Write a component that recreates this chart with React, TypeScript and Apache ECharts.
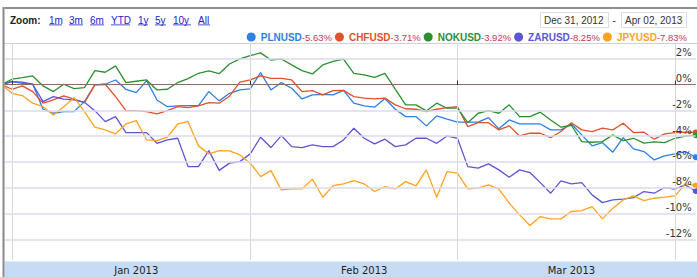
import React, { useEffect, useRef } from "react";
import * as echarts from "echarts";

// ---- data (percent change since Dec 31, 2012), one point per weekday ----
const SERIES_NAMES = ["PLNUSD", "CHFUSD", "NOKUSD", "ZARUSD", "JPYUSD"];
const SERIES_COLORS = ["#2e7fe6", "#e3512b", "#2b9130", "#5c55d6", "#ffa31f"];

const PLN = [0, 0.25, 0.1, 0.05, -1.91, -2.22, -2.09, -2.09, -1.32, -0.02, 0.03, 0.36, -0.36, -0.62, 0.31, -1.19, -1.71, -1.65, -1.63, -1.63, -0.54, -1.26, -0.67, -0.41, -0.33, 0.93, -0.41, 0.16, -0.28, -1.11, -0.8, -0.75, -0.8, -0.45, -1.44, -1.65, -1.75, -1.08, -1.91, -2.48, -2.48, -3.2, -2.43, -2.68, -2.91, -2.91, -2.91, -2.56, -3.43, -2.74, -3.05, -3.05, -3.05, -3.51, -3.51, -3.05, -3.9, -4.75, -4.5, -5.24, -4.11, -4.98, -5.19, -5.84, -5.53, -5.37, -5.19, -5.63];
const CHF = [0, -0.36, -0.1, -0.54, -1.44, -1.19, -0.88, -1.13, -1.4, -0.02, 0.03, -0.93, -2.02, -2.02, -2.09, -2.27, -2.02, -1.71, -1.78, -1.65, -1.4, -1.44, -0.9, 0.19, 0.36, 0.67, 0.49, 0.49, 0.36, -0.54, -0.46, -0.8, -0.46, -0.45, -0.93, -1.05, -1.1, -1.05, -1.57, -1.87, -1.91, -2.09, -1.91, -1.78, -1.71, -3.26, -2.95, -2.95, -3.51, -3.2, -3.98, -3.77, -3.77, -4.11, -3.64, -2.95, -3.51, -3.64, -3.38, -3.51, -2.99, -3.72, -3.69, -4.23, -3.82, -3.72, -3.69, -3.71];
const NOK = [0, 0.42, 0.54, 0.67, -0.1, -0.54, 0.03, -0.31, -0.23, 1.09, 0.96, 1.45, 0.16, 0.26, 0.36, -0.41, -0.36, 0.16, 0.47, 0.88, 1.06, 0.85, 1.6, 1.99, 2.25, 2.46, 1.91, 1.99, 1.53, 1.09, 0.83, 1.53, 1.8, 1.97, 0.88, 0.75, 0.57, 0.88, -0.35, -1.57, -1.57, -2.04, -1.44, -1.83, -1.83, -2.95, -2.22, -2.02, -2.22, -1.57, -2.48, -2.48, -2.14, -2.74, -3.3, -3.15, -4.42, -4.47, -4.42, -3.9, -4.34, -4.16, -4.54, -4.44, -4.5, -4.16, -4.0, -3.92];
const ZAR = [0, 0.23, 0.19, 0.03, -1.32, -0.93, -1.13, -1.19, -1.37, -2.02, -2.87, -2.48, -3.72, -3.72, -3.72, -4.55, -4.29, -4.16, -6.36, -6.36, -5.12, -6.65, -6.09, -5.97, -5.37, -4.08, -4.88, -3.95, -4.81, -4.88, -4.67, -4.81, -4.81, -4.29, -3.38, -4.16, -4.6, -4.23, -4.81, -4.67, -4.16, -4.16, -4.55, -3.98, -4.16, -6.36, -6.48, -6.15, -6.61, -7.18, -6.61, -6.82, -7.6, -8.42, -7.47, -7.7, -7.6, -8.55, -9.15, -8.94, -8.88, -8.76, -8.29, -8.42, -7.98, -8.11, -7.78, -8.25];
const JPY = [0, -0.67, -0.85, -1.44, -1.71, -2.35, -1.71, -1.01, -2.09, -3.3, -3.51, -3.82, -3.05, -2.79, -4.29, -4.34, -4.08, -3.05, -2.87, -4.75, -5.37, -5.12, -5.14, -5.45, -6.09, -7.13, -6.67, -8.16, -8.09, -8.09, -7.33, -8.73, -7.83, -7.7, -7.44, -7.7, -8.29, -7.91, -8.09, -7.52, -7.85, -6.61, -8.73, -6.74, -6.87, -8.09, -8.03, -7.78, -8.11, -9.19, -10.1, -10.93, -10.23, -10.41, -10.41, -9.84, -9.77, -9.46, -10.41, -9.58, -8.94, -8.63, -8.99, -8.81, -8.73, -8.63, -7.7, -7.83];
const SERIES_VALUES = [PLN, CHF, NOK, ZAR, JPY];

const Y_TICKS = [2, 0, -2, -4, -6, -8, -10, -12];
const Y_MIN = -13.6;
const Y_MAX = 3.15;

const MONTH_NAMES = ["Jan", "Feb", "Mar", "Apr", "May", "Jun", "Jul", "Aug", "Sep", "Oct", "Nov", "Dec"];
const MONTH_LABEL_DATES = ["2013-01-17", "2013-02-18", "2013-03-18"];
const ZOOM_LINKS = ["1m", "3m", "6m", "YTD", "1y", "5y", "10y", "All"];
const RANGE_FROM = "Dec 31, 2012";
const RANGE_TO = "Apr 02, 2013";

// weekday calendar (category axis)
function buildDates(count: number): string[] {
  const out: string[] = [];
  const d = new Date(Date.UTC(2012, 11, 31));
  while (out.length < count) {
    const wd = d.getUTCDay();
    if (wd !== 0 && wd !== 6) out.push(d.toISOString().slice(0, 10));
    d.setUTCDate(d.getUTCDate() + 1);
  }
  return out;
}
const DATES = buildDates(PLN.length);

const SANS = "'Liberation Sans', Arial, sans-serif";
const DEJAVU = "'DejaVu Sans', Verdana, sans-serif";

export default function App() {
  const ref = useRef<HTMLDivElement>(null);
  useEffect(() => {
    if (!ref.current) return;
    const chart = echarts.init(ref.current, null, { renderer: "svg" });
    const isMonthStart = (i: number) => i > 0 && DATES[i].slice(5, 7) !== DATES[i - 1].slice(5, 7);
    const lastOf = (name: string) => {
      const arr = SERIES_VALUES[SERIES_NAMES.indexOf(name)];
      return arr[arr.length - 1];
    };

    // zoom links positions (UI chrome)
    const linkX = [49, 69, 90, 111, 138, 155, 173, 198];
    const linkW = [13, 14, 14, 19, 10, 11, 18, 12];
    const linkEls: any[] = [];
    ZOOM_LINKS.forEach((t, i) => {
      linkEls.push({
        type: "text", x: linkX[i], y: 20,
        style: { text: t, fill: "#2323c8", font: `10px ${SANS}`, textVerticalAlign: "middle" },
      });
      linkEls.push({
        type: "rect", shape: { x: linkX[i], y: 24.5, width: linkW[i], height: 0.8 },
        style: { fill: "#2323c8" },
      });
    });

    const option: any = {
      animation: false,
      grid: { left: 1.6, right: 1.3, top: 44, bottom: 17 },
      xAxis: {
        type: "category",
        data: DATES,
        boundaryGap: false,
        z: 5,
        axisLine: { show: false },
        axisTick: {
          show: true, inside: true, length: 4,
          interval: (i: number) => isMonthStart(i),
          lineStyle: { color: "#333", width: 1 },
        },
        splitLine: {
          show: true,
          interval: (i: number) => isMonthStart(i),
          lineStyle: { color: "#d6dad6", width: 1 },
        },
        axisLabel: {
          interval: (i: number) => MONTH_LABEL_DATES.includes(DATES[i]),
          formatter: (v: string) => `${MONTH_NAMES[Number(v.slice(5, 7)) - 1]} ${v.slice(0, 4)}`,
          color: "#222", fontSize: 10, fontFamily: DEJAVU, margin: 5,
        },
      },
      yAxis: { type: "value", min: Y_MIN, max: Y_MAX, show: false },
      legend: {
        top: 27, right: 5, icon: "circle", itemWidth: 9, itemHeight: 9, itemGap: 3,
        selectedMode: false,
        data: SERIES_NAMES.map((n, i) => ({
          name: n,
          textStyle: {
            rich: {
              n: { color: SERIES_COLORS[i], fontWeight: "bold", fontSize: 10, fontFamily: SANS },
              v: { color: "#cc3355", fontSize: 9.5, fontFamily: SANS },
            },
          },
        })),
        formatter: (name: string) => `{n|${name}}{v|${lastOf(name).toFixed(2)}%}`,
      },
      graphic: [
        { type: "rect", z: -1, shape: { x: 4, y: 261.5, width: 693, height: 16 }, style: { fill: "#c6dcf4" } },
        { type: "rect", z: 100, shape: { x: 3, y: 7, width: 694, height: 2 }, style: { fill: "#8e8e8e" } },
        { type: "rect", z: 100, shape: { x: 0, y: 7, width: 4.5, height: 270 }, style: { fill: "#ffffff" } },
        { type: "rect", z: 101, shape: { x: 2.5, y: 7, width: 2, height: 270 }, style: { fill: "#8a8a8a" } },
        { type: "rect", z: 100, shape: { x: 4, y: 43, width: 693, height: 1 }, style: { fill: "#d0d0d0" } },
        { type: "text", x: 10, y: 20, style: { text: "Zoom:", fill: "#222", font: `bold 10px ${SANS}`, textVerticalAlign: "middle" } },
        ...linkEls,
        { type: "rect", shape: { x: 540.5, y: 12.5, width: 68, height: 15 }, style: { fill: "#fff", stroke: "#dcdcdc", lineWidth: 1 } },
        { type: "text", x: 544, y: 20.5, style: { text: RANGE_FROM, fill: "#333", font: `10px ${SANS}`, textVerticalAlign: "middle" } },
        { type: "text", x: 612.5, y: 20.5, style: { text: "-", fill: "#333", font: `10px ${SANS}`, textVerticalAlign: "middle" } },
        { type: "rect", shape: { x: 621.5, y: 12.5, width: 65, height: 15 }, style: { fill: "#fff", stroke: "#dcdcdc", lineWidth: 1 } },
        { type: "text", x: 625, y: 20.5, style: { text: RANGE_TO, fill: "#333", font: `10px ${SANS}`, textVerticalAlign: "middle" } },
      ],
      series: [
        {
          type: "line",
          name: "__grid",
          z: 1,
          data: DATES.map(() => null),
          silent: true,
          markLine: {
            silent: true,
            symbol: ["none", "none"],
            data: Y_TICKS.map((v) => ({
              yAxis: v,
              lineStyle: v === 0
                ? { color: "#8b6b62", width: 1.2, type: "solid" }
                : { color: "#dadaf0", width: 1.5, type: "solid" },
            })),
            label: {
              show: true,
              position: "insideEndTop",
              distance: [4, 1],
              formatter: (p: any) => `${p.value}%`,
              color: "#333",
              fontSize: 10,
              fontFamily: DEJAVU,
            },
          },
        },
        ...SERIES_NAMES.map((n, i) => ({
          type: "line",
          name: n,
          z: 3,
          data: SERIES_VALUES[i],
          color: SERIES_COLORS[i],
          lineStyle: { width: 1.3, color: SERIES_COLORS[i] },
          showSymbol: true,
          symbol: "circle",
          symbolSize: (_v: any, p: any) => (p.dataIndex === SERIES_VALUES[i].length - 1 ? 6 : 0),
          itemStyle: { color: SERIES_COLORS[i] },
        })),
      ],
    };
    chart.setOption(option);
    return () => chart.dispose();
  }, []);
  return (
    <div
      ref={ref}
      style={{ position: "absolute", left: 0, top: 0, width: 697, height: 277, background: "#fff" }}
    />
  );
}
